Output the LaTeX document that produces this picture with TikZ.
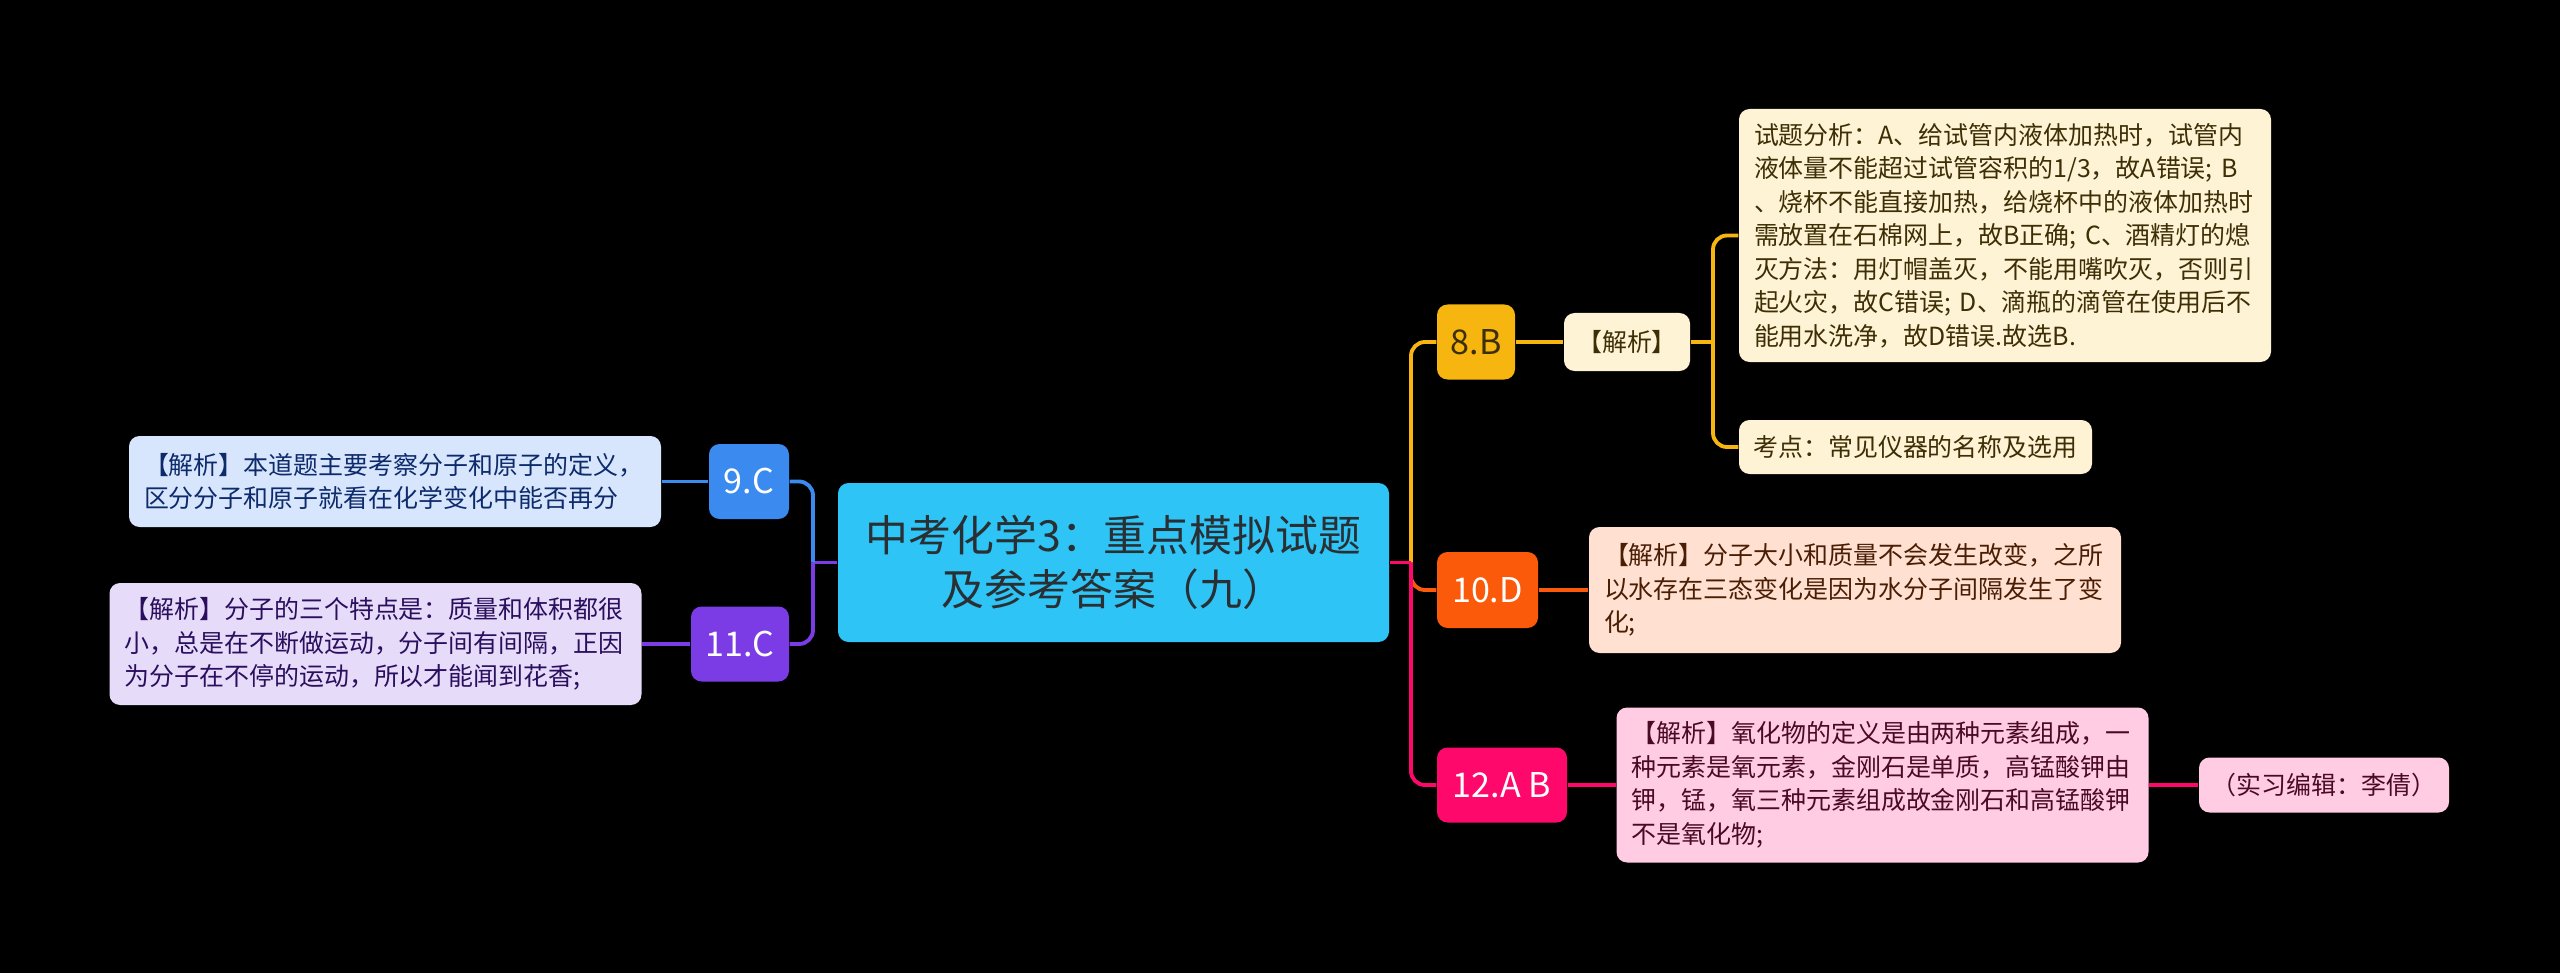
\documentclass[tikz,border=0pt]{standalone}
\usepackage{fontspec}
\setmainfont{Noto Sans CJK SC}
\usepackage{tikz}
\usetikzlibrary{positioning}

\definecolor{cCentre}{HTML}{2EC4F5}
\definecolor{cTitle}{HTML}{2A2F33}
\definecolor{cYellow}{HTML}{F7B50F}
\definecolor{cOrange}{HTML}{FA5A0A}
\definecolor{cPink}{HTML}{FF086C}
\definecolor{cBlue}{HTML}{3B8AF0}
\definecolor{cPurple}{HTML}{7B3CE6}
\definecolor{pYellow}{HTML}{FFF3D6}
\definecolor{pOrange}{HTML}{FFE0D1}
\definecolor{pPink}{HTML}{FFCCE3}
\definecolor{pBlue}{HTML}{D7E6FD}
\definecolor{pPurple}{HTML}{E6DCFA}
\definecolor{tYellow}{HTML}{3D2F05}
\definecolor{tOrange}{HTML}{4A1D05}
\definecolor{tPink}{HTML}{4A0A25}
\definecolor{tBlue}{HTML}{0D2A6B}
\definecolor{tPurple}{HTML}{2B0F5E}

\begin{document}
\begin{tikzpicture}[
  topic/.style={fill=cCentre, rounded corners=3pt, minimum width=5.51cm, minimum height=1.59cm, align=center, text=cTitle, font=\fontsize{12.2}{15.4}\selectfont},
  tag/.style={rounded corners=3pt, minimum height=0.75cm, inner sep=0pt, font=\fontsize{9.7}{11.5}\selectfont, text=white},
  note/.style={rounded corners=3pt, text width=5.02cm, align=left, inner xsep=0.15cm, font=\fontsize{7.1}{9.55}\selectfont},
  small/.style={rounded corners=3pt, minimum height=0.55cm, inner sep=0pt, font=\fontsize{7.1}{9.55}\selectfont},
  link/.style={line width=1.1pt},
  elbow/.style={line width=1.1pt, rounded corners=0.14cm}
]

\fill[black] (0,0) rectangle (25.6,-9.73);
\useasboundingbox (0,0) rectangle (25.6,-9.73);

\node[topic] (centre) at (11.135,-5.625) {中考化学3：重点模拟试题\\及参考答案（九）};

\node[tag, fill=cYellow, text=tYellow, minimum width=0.78cm] (b8) at (14.76,-3.42) {8.B};
\node[small, fill=pYellow, text=tYellow, minimum width=1.26cm, minimum height=0.58cm] (jx8) at (16.27,-3.42) {【解析】};
\node[note, fill=pYellow, text=tYellow, minimum height=2.53cm] (fx) at (20.05,-2.355) {试题分析：A、给试管内液体加热时，试管内\\液体量不能超过试管容积的1/3，故A错误; B\\、烧杯不能直接加热，给烧杯中的液体加热时\\需放置在石棉网上，故B正确; C、酒精灯的熄\\灭方法：用灯帽盖灭，不能用嘴吹灭，否则引\\起火灾，故C错误; D、滴瓶的滴管在使用后不\\能用水洗净，故D错误.故选B.};
\node[small, fill=pYellow, text=tYellow, minimum width=3.53cm, minimum height=0.54cm] (kd) at (19.155,-4.47) {考点：常见仪器的名称及选用};

\node[tag, fill=cOrange, minimum width=1.01cm, minimum height=0.76cm] (b10) at (14.875,-5.90) {10.D};
\node[note, fill=pOrange, text=tOrange, minimum height=1.26cm] (t10) at (18.55,-5.90) {【解析】分子大小和质量不会发生改变，之所\\以水存在三态变化是因为水分子间隔发生了变\\化;};

\node[tag, fill=cPink, minimum width=1.30cm] (b12) at (15.02,-7.85) {12.A B};
\node[note, fill=pPink, text=tPink, minimum height=1.55cm] (t12) at (18.825,-7.85) {【解析】氧化物的定义是由两种元素组成，一\\种元素是氧元素，金刚石是单质，高锰酸钾由\\钾，锰，氧三种元素组成故金刚石和高锰酸钾\\不是氧化物;};
\node[small, fill=pPink, text=tPink, minimum width=2.50cm] (ed) at (23.24,-7.85) {（实习编辑：李倩）};

\node[tag, fill=cBlue, minimum width=0.80cm] (b9) at (7.49,-4.815) {9.C};
\node[note, fill=pBlue, text=tBlue, minimum height=0.91cm] (t9) at (3.95,-4.815) {【解析】本道题主要考察分子和原子的定义，\\区分分子和原子就看在化学变化中能否再分};

\node[tag, fill=cPurple, minimum width=0.98cm] (b11) at (7.40,-6.44) {11.C};
\node[note, fill=pPurple, text=tPurple, minimum height=1.22cm] (t11) at (3.755,-6.44) {【解析】分子的三个特点是：质量和体积都很\\小，总是在不断做运动，分子间有间隔，正因\\为分子在不停的运动，所以才能闻到花香;};

\coordinate (rj) at (14.11,-5.625);
\coordinate (lj) at (8.13,-5.625);
\coordinate (nj) at (17.13,-3.42);

\draw[link, cYellow] (centre.east) -- (rj);
\draw[elbow, cYellow] (rj) |- (b8);
\draw[elbow, cOrange] (rj) |- (b10);
\draw[link, cPink] (centre.east) -- (rj);
\draw[elbow, cPink] (rj) |- (b12);

\draw[link, cYellow] (b8) -- (jx8);
\draw[link, cYellow] (jx8) -- (nj);
\draw[elbow, cYellow] (nj) |- (fx);
\draw[elbow, cYellow] (nj) |- (kd);
\draw[link, cOrange] (b10) -- (t10);
\draw[link, cPink] (b12) -- (t12);
\draw[link, cPink] (t12) -- (ed);

\draw[link, cPurple] (centre.west) -- (lj);
\draw[elbow, cBlue] (lj) |- (b9);
\draw[elbow, cPurple] (lj) |- (b11);
\draw[link, cBlue] (b9) -- (t9);
\draw[link, cPurple] (b11) -- (t11);

\end{tikzpicture}
\end{document}
